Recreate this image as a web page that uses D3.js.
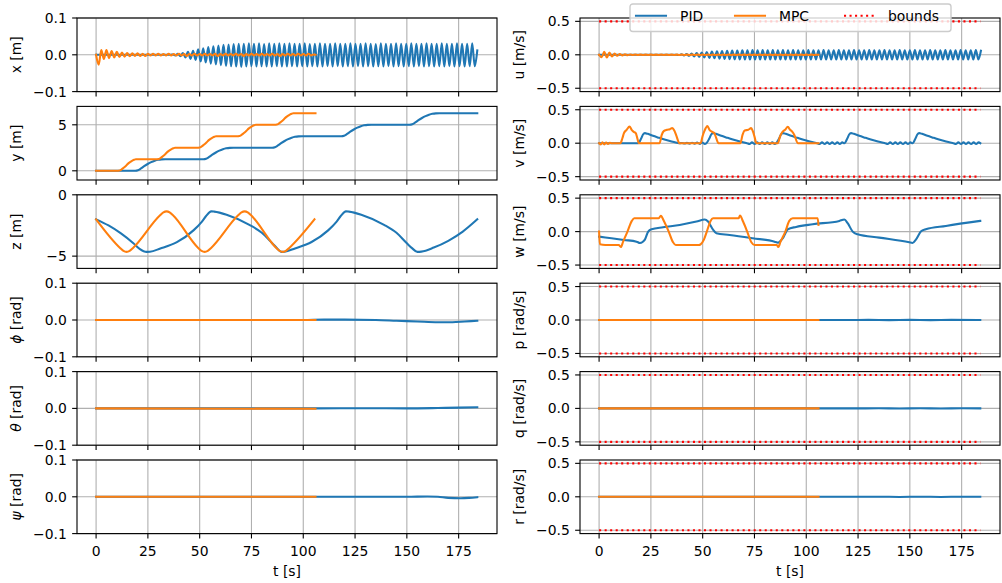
<!DOCTYPE html>
<html>
<head>
<meta charset="utf-8">
<script src="https://cdn.jsdelivr.net/npm/d3@7"></script>
<style>
  body { margin: 0; background: #fff; }
  svg text { font-family: "DejaVu Sans", sans-serif; fill: #000; }
</style>
</head>
<body>
<svg id="fig" width="1002" height="583"></svg>
<script>
// ---------------- data ----------------
const tTicks = [0, 25, 50, 75, 100, 125, 150, 175];
const seriesNames = ["PID", "MPC", "bounds"];

// surge position x [m]: PID oscillation extrema sampled every half period
const xPidStart = 37.0, xPidStep = 1.225;
const xPidVals = [
  0.001,-0.002,0.003,-0.004,0.005,-0.007,0.008,-0.011,0.011,-0.014,
  0.015,-0.018,0.018,-0.021,0.021,-0.024,0.023,-0.026,0.025,-0.028,
  0.027,-0.030,0.028,-0.031,0.029,-0.032,0.030,-0.033,
  0.030,-0.032,0.031,-0.031,0.030,-0.032,0.031,-0.031,0.029,-0.032,
  0.031,-0.032,0.030,-0.031,0.031,-0.032,0.030,-0.032,0.031,-0.031,
  0.030,-0.032,0.030,-0.031,0.031,-0.032,0.029,-0.031,0.030,-0.032,
  0.031,-0.032,0.030,-0.031,0.030,-0.032,0.031,-0.031,0.030,-0.032,
  0.030,-0.031,0.031,-0.032,0.030,-0.031,0.030,-0.032,0.031,-0.031,
  0.030,-0.032,0.029,-0.031,0.031,-0.032,0.030,-0.031,0.030,-0.032,
  0.031,-0.031,0.030,-0.032,0.030,-0.031,0.031,-0.032,0.030,-0.031,
  0.030,-0.032,0.031,-0.031,0.030,-0.032,0.030,-0.031,0.031,-0.032,
  0.030,-0.031,0.030,-0.032,0.031,-0.031,0.030,-0.032,0.030,-0.031,
  0.031,-0.031,0.012
];
const xMpcStep = 1.25;
const xMpcVals = [
  0,-0.027,0.013,-0.011,0.013,-0.009,0.010,-0.007,0.008,-0.006,
  0.006,-0.005,0.005,-0.004,0.004,-0.003,0.004,-0.003,0.003,-0.003,
  0.003,-0.002,0.003,-0.002,0.003,-0.002,0.002,-0.002,0.003,-0.002,
  0.002,-0.002,0.003,-0.002,0.002,-0.003,0.002,-0.002,0.003,-0.002,
  0.002,-0.002,0.003,-0.002,0.002,-0.002,0.003,-0.003,0.002,-0.002,
  0.003,-0.002,0.002,-0.002,0.003,-0.002,0.002,-0.003,0.002,-0.002,
  0.003,-0.002,0.002,-0.002,0.003,-0.002,0.002,-0.002,0.003,-0.002,
  0.002,-0.003,0.002,-0.002,0.003,-0.002,0.002,-0.002,0.003,-0.002,
  0.002,-0.002,0.003,-0.002,0.001
];

// sway position y [m]
const yPid = [
  [0,0],[18.9,0],[20.2,0.06],[21.5,0.23],[23.2,0.5],[24.9,0.74],[26.6,0.94],[28.3,1.09],[29.9,1.19],[31.6,1.24],[33.4,1.25],
  [51.8,1.25],[53.1,1.31],[54.4,1.48],[56.1,1.75],[57.8,1.99],[59.5,2.19],[61.2,2.34],[62.8,2.44],[64.5,2.49],[66.3,2.5],
  [85.0,2.5],[86.3,2.56],[87.6,2.73],[89.3,3.0],[91.0,3.24],[92.7,3.44],[94.4,3.59],[96.0,3.69],[97.7,3.74],[99.5,3.75],
  [118.4,3.75],[119.7,3.81],[121.0,3.98],[122.7,4.25],[124.4,4.49],[126.1,4.69],[127.8,4.84],[129.4,4.94],[131.1,4.99],[132.9,5.0],
  [151.3,5.0],[152.6,5.06],[153.9,5.23],[155.6,5.5],[157.3,5.74],[159.0,5.94],[160.7,6.09],[162.3,6.19],[164.0,6.24],[165.8,6.25],
  [184.0,6.25]
];
const yMpc = [
  [0,0],[10.3,0],[11.2,0.03],[12.0,0.11],[13.3,0.33],[14.7,0.61],[15.7,0.83],[16.7,0.99],[17.7,1.13],[18.4,1.2],[19.2,1.25],
  [29.2,1.25],[30.1,1.28],[30.9,1.36],[32.2,1.58],[33.6,1.86],[34.6,2.08],[35.6,2.24],[36.6,2.38],[37.3,2.45],[38.1,2.5],
  [49.0,2.5],[49.9,2.53],[50.7,2.61],[52.0,2.83],[53.4,3.11],[54.4,3.33],[55.4,3.49],[56.4,3.63],[57.1,3.7],[57.9,3.75],
  [68.2,3.75],[69.1,3.78],[69.9,3.86],[71.2,4.08],[72.6,4.36],[73.6,4.58],[74.6,4.74],[75.6,4.88],[76.3,4.95],[77.1,5.0],
  [86.3,5.0],[87.2,5.03],[88.0,5.11],[89.3,5.33],[90.7,5.61],[91.7,5.83],[92.7,5.99],[93.7,6.13],[94.4,6.2],[95.2,6.25],
  [105.9,6.25]
];

// heave position z [m]
const zPid = [
  [0,-2.0],[6,-2.5],[12,-3.15],[18,-3.95],[21,-4.4],[24.4,-4.65],[26,-4.64],[31,-4.38],[39,-3.86],[47,-2.9],[51,-2.2],[53,-1.75],[55.6,-1.35],
  [57,-1.37],[63,-1.62],[74,-2.45],[80,-3.1],[85,-3.95],[87,-4.3],[89.4,-4.65],[91,-4.64],[96,-4.37],[104,-3.85],[112,-2.9],[116,-2.2],[118,-1.75],[120.6,-1.35],
  [122,-1.37],[128,-1.62],[139,-2.45],[145,-3.1],[150,-3.95],[152.5,-4.35],[155.1,-4.65],[157,-4.63],[163,-4.3],[170,-3.75],[177,-3.0],[184,-2.0]
];
const zMpc = [
  [0,-2.0],[11.7,-4.35],[13.2,-4.57],[14.7,-4.65],[16.2,-4.57],[17.7,-4.35],
  [31.0,-1.65],[32.5,-1.43],[34.0,-1.35],[35.5,-1.43],[37.0,-1.65],
  [49.4,-4.35],[50.9,-4.57],[52.4,-4.65],[53.9,-4.57],[55.4,-4.35],
  [68.7,-1.65],[70.2,-1.43],[71.7,-1.35],[73.2,-1.43],[74.7,-1.65],
  [87.1,-4.35],[88.6,-4.57],[90.1,-4.65],[91.6,-4.57],[93.1,-4.35],
  [105.4,-2.0]
];

// attitude angles [rad]
const phiPid = [[0,0],[100,0],[110,0.001],[120,0.001],[135,0],[145,-0.002],[155,-0.004],[165,-0.006],[172,-0.006],[178,-0.004],[184,-0.002]];
const phiMpc = [[0,0],[105.9,0]];
const thetaPid = [[0,0],[106,0],[130,0.0005],[150,0],[165,0.001],[175,0.002],[184,0.003]];
const thetaMpc = [[0,0],[105.9,-0.001]];
const psiPid = [[0,0],[150,0],[160,0.001],[165,0],[170,-0.003],[176,-0.004],[180,-0.003],[184,-0.001]];
const psiMpc = [[0,0],[105.9,0]];

// surge velocity u [m/s]
const uPidStart = 37.3, uPidStep = 1.225;
const uPidVals = [
  0.002,-0.004,0.006,-0.009,0.011,-0.015,0.018,-0.024,0.025,-0.031,
  0.034,-0.039,0.041,-0.046,0.047,-0.052,0.052,-0.057,0.056,-0.061,
  0.060,-0.065,0.062,-0.068,0.065,-0.070,0.067,-0.071,
  0.069,-0.071,0.070,-0.070,0.069,-0.071,0.070,-0.070,0.068,-0.071,
  0.070,-0.071,0.069,-0.070,0.070,-0.071,0.069,-0.071,0.070,-0.070,
  0.069,-0.071,0.069,-0.070,0.070,-0.071,0.068,-0.070,0.069,-0.071,
  0.070,-0.071,0.069,-0.070,0.069,-0.071,0.070,-0.070,0.069,-0.071,
  0.069,-0.070,0.070,-0.071,0.069,-0.070,0.069,-0.071,0.070,-0.070,
  0.069,-0.071,0.068,-0.070,0.070,-0.071,0.069,-0.070,0.069,-0.071,
  0.070,-0.070,0.069,-0.071,0.069,-0.070,0.070,-0.071,0.069,-0.070,
  0.069,-0.071,0.070,-0.070,0.069,-0.071,0.069,-0.070,0.070,-0.071,
  0.069,-0.070,0.069,-0.071,0.070,-0.070,0.069,-0.071,0.069,-0.070,
  0.070,-0.070,0.060
];
const uMpcStep = 1.25;
const uMpcVals = [
  0,-0.035,0.045,-0.040,0.032,-0.026,0.020,-0.015,0.012,-0.009,
  0.007,-0.006,0.005,-0.004,0.004,-0.004,0.003,-0.003,0.003,-0.003,
  0.003,-0.003,0.003,-0.003,0.003,-0.003,0.003,-0.003,0.003,-0.003,
  0.003,-0.003,0.003,-0.003,0.003,-0.003,0.003,-0.003,0.003,-0.003,
  0.003,-0.003,0.003,-0.003,0.003,-0.003,0.003,-0.003,0.003,-0.003,
  0.003,-0.003,0.003,-0.003,0.003,-0.003,0.003,-0.003,0.003,-0.003,
  0.003,-0.003,0.003,-0.003,0.003,-0.003,0.003,-0.003,0.003,-0.003,
  0.003,-0.003,0.003,-0.003,0.003,-0.003,0.003,-0.003,0.003,-0.003,
  0.003,-0.003,0.003,-0.003,0.002
];

// sway velocity v [m/s]
const vPid = [
  [0,0],[18.9,0],[20.3,0.07],[21.2,0.13],[22.1,0.15],[23.5,0.14],[26,0.11],[29,0.08],[32,0.05],[35,0.025],[37,0.01],[38.5,0],
  [40,0.003],[41.2,-0.004],[42.4,0.005],[43.7,-0.006],[44.9,0.007],[46.1,-0.008],[47.3,0.009],[48.6,-0.01],[49.8,0.01],[51,-0.01],[51.8,0],
  [53.2,0.07],[54.1,0.13],[55,0.15],[56.4,0.14],[59,0.11],[62,0.08],[65,0.05],[68,0.025],[70,0.01],[71.4,0],
  [72.6,-0.012],[73.8,0.012],[75.1,-0.012],[76.3,0.012],[77.5,-0.012],[78.7,0.012],[80,-0.012],[81.2,0.012],[82.4,-0.012],[83.6,0.012],[84.8,-0.012],[85.5,0],
  [86.9,0.07],[87.8,0.13],[88.7,0.15],[90.1,0.14],[92.7,0.11],[95.7,0.08],[98.7,0.05],[101.7,0.025],[103.7,0.01],[105.2,0],
  [106.4,-0.012],[107.6,0.012],[108.9,-0.012],[110.1,0.012],[111.3,-0.012],[112.5,0.012],[113.8,-0.012],[115,0.012],[116.2,-0.012],[117.4,0.012],[118.4,0],
  [119.8,0.07],[120.7,0.13],[121.6,0.15],[123,0.14],[125.6,0.11],[128.6,0.08],[131.6,0.05],[134.6,0.025],[136.6,0.01],[138.1,0],
  [139.3,-0.012],[140.5,0.012],[141.8,-0.012],[143,0.012],[144.2,-0.012],[145.4,0.012],[146.7,-0.012],[147.9,0.012],[149.1,-0.012],[150.3,0.012],[151.3,0],
  [152.7,0.07],[153.6,0.13],[154.5,0.15],[155.9,0.14],[158.5,0.11],[161.5,0.08],[164.5,0.05],[167.5,0.025],[169.5,0.01],[171,0],
  [172.2,-0.012],[173.4,0.012],[174.7,-0.012],[175.9,0.012],[177.1,-0.012],[178.3,0.012],[179.6,-0.012],[180.8,0.012],[182,-0.012],[183.2,0.012],[184,0]
];
const vMpc = [
  [0,0],[0.8,-0.02],[1.6,0.015],[2.5,-0.02],[3.4,0.01],[4.3,-0.01],[5.2,0.005],[6,0],
  [10.3,0],[11.2,0.07],[12,0.15],[13.3,0.2],[14.7,0.25],[15.7,0.2],[16.7,0.17],[17.7,0.15],[18.4,0.08],[19.2,0],
  [29.2,0],[30.2,0.12],[31.2,0.18],[32.8,0.2],[34.2,0.21],[35.3,0.225],[36.3,0.19],[37.2,0.12],[38.8,0],
  [49,0],[49.9,0.1],[50.8,0.18],[52.3,0.255],[53.3,0.2],[54.6,0.17],[55.6,0.15],[56.5,0.08],[57.6,0],
  [68.2,0],[69.2,0.12],[70.3,0.19],[72,0.2],[73.4,0.225],[74.2,0.18],[75,0.1],[75.9,0],
  [86.3,0],[87.3,0.1],[88.3,0.16],[89.8,0.2],[91.1,0.245],[92.2,0.2],[93.3,0.17],[94.3,0.12],[95.9,0],
  [105.9,0]
];

// heave velocity w [m/s]
const wPid = [
  [0,-0.075],[6,-0.1],[12,-0.125],[18.1,-0.15],[19.7,-0.17],[21,-0.155],[22.1,-0.12],[23.7,0],[25.3,0.035],[30.9,0.065],[38.9,0.1],[47,0.15],[51,0.18],
  [52.6,0.15],[55,0.03],[56.6,-0.025],[63,-0.05],[74.2,-0.1],[84.7,-0.15],[86.3,-0.165],[87.5,-0.14],[88.7,-0.1],[90,-0.02],[91.1,0.035],[95.1,0.07],[103.1,0.11],[116,0.16],[118.4,0.18],
  [120,0.125],[122.4,0],[124.8,-0.04],[135.2,-0.09],[149.7,-0.16],[151.3,-0.17],[152.9,-0.12],[155.3,0],[157.7,0.035],[167.4,0.085],[184,0.16]
];
const wMpc = [
  [0,0],[0.4,-0.19],[3,-0.2],[6,-0.2],[9.5,-0.2],[10.5,-0.23],[11.6,-0.15],[13.7,0],[15.8,0.16],[17,0.2],[20,0.2],[25,0.2],[28.8,0.2],
  [29.8,0.235],[31.4,0.15],[33.6,0],[35.7,-0.16],[37,-0.2],[40,-0.2],[44,-0.2],[48.1,-0.2],[49,-0.19],[50.6,-0.12],[52,0],[53.8,0.16],[55,0.2],
  [60,0.2],[65,0.2],[67.4,0.2],[68,0.24],[69.5,0.15],[71.5,0],[73.5,-0.16],[75,-0.2],[80,-0.2],[85.8,-0.2],[86.5,-0.23],[87.6,-0.15],[89.9,0],
  [91.8,0.16],[93.5,0.2],[97,0.2],[100,0.2],[105.5,0.2],[105.9,0.1]
];

// angular rates p, q, r [rad/s]
const pPid = [[0,0],[120,0],[130,0.002],[140,-0.002],[150,0.002],[160,-0.002],[170,0.002],[184,0]];
const pMpc = [[0,0],[105.9,0]];
const qPid = [[0,0],[125,0],[135,0.002],[145,-0.002],[155,0.002],[165,-0.002],[175,0.002],[184,0]];
const qMpc = [[0,0],[105.9,0]];
const rPid = [[0,0],[125,0],[135,0.002],[145,-0.002],[155,0.002],[165,-0.002],[175,0.002],[184,0]];
const rMpc = [[0,0],[105.9,0]];

// velocity limits
const boundT = [0, 184];
const boundLevels = [-0.5, 0.5];

// ---------------- helpers ----------------
const sampled = (t0, dt, vals, lead) => (lead || []).concat(vals.map((v, i) => [t0 + i * dt, v]));

const xPid = sampled(xPidStart, xPidStep, xPidVals, [[0, 0], [36, 0]]);
const xMpc = sampled(0, xMpcStep, xMpcVals).concat([[105.9, 0]]);
const uPid = sampled(uPidStart, uPidStep, uPidVals, [[0, 0], [36.2, 0]]);
const uMpc = sampled(0, uMpcStep, uMpcVals).concat([[105.9, 0]]);

// ---------------- layout ----------------
const svg = d3.select("#fig");
const FS = 13.9;
const LW = 2.08, AXW = 1.11, TICK = 4.86;
const C_PID = "#1f77b4", C_MPC = "#ff7f0e", C_BND = "#ff0000";
const colX = [77, 580], colW = 420;
const rowTop = [18, 106.4, 194.8, 283.2, 371.6, 460], rowH = 73.6;

const allT = [xPid, xMpc, uPid, uMpc, yPid, zPid, vPid, wPid].flat().map(d => d[0]);
const tExt = d3.extent(allT);
const tPad = 0.05 * (tExt[1] - tExt[0]);

const f1 = d3.format(".1f"), f0 = d3.format("d");

const leftPanels = [
  { label: [["x", false], [" [m]", false]], dom: [-0.1, 0.1], ticks: [-0.1, 0, 0.1], fmt: f1, pid: xPid, mpc: xMpc },
  { label: [["y", false], [" [m]", false]], dom: [-1, 7], ticks: [0, 5], fmt: f0, pid: yPid, mpc: yMpc },
  { label: [["z", false], [" [m]", false]], dom: [-6, 0], ticks: [-5, 0], fmt: f0, pid: zPid, mpc: zMpc },
  { label: [["\u03D5", true], [" [rad]", false]], dom: [-0.1, 0.1], ticks: [-0.1, 0, 0.1], fmt: f1, pid: phiPid, mpc: phiMpc },
  { label: [["\u03B8", true], [" [rad]", false]], dom: [-0.1, 0.1], ticks: [-0.1, 0, 0.1], fmt: f1, pid: thetaPid, mpc: thetaMpc },
  { label: [["\u03C8", true], [" [rad]", false]], dom: [-0.1, 0.1], ticks: [-0.1, 0, 0.1], fmt: f1, pid: psiPid, mpc: psiMpc }
];
const rightPanels = [
  { label: [["u [m/s]", false]], pid: uPid, mpc: uMpc },
  { label: [["v [m/s]", false]], pid: vPid, mpc: vMpc },
  { label: [["w [m/s]", false]], pid: wPid, mpc: wMpc },
  { label: [["p [rad/s]", false]], pid: pPid, mpc: pMpc },
  { label: [["q [rad/s]", false]], pid: qPid, mpc: qMpc },
  { label: [["r [rad/s]", false]], pid: rPid, mpc: rMpc }
].map(p => Object.assign(p, { dom: [-0.55, 0.55], ticks: [-0.5, 0, 0.5], fmt: f1, bounds: true }));

let clipId = 0;
function drawPanel(p, col, row) {
  const x0 = colX[col], y0 = rowTop[row];
  const xs = d3.scaleLinear().domain([tExt[0] - tPad, tExt[1] + tPad]).range([x0, x0 + colW]);
  const ys = d3.scaleLinear().domain(p.dom).range([y0 + rowH, y0]);
  const g = svg.append("g");
  const cid = "clip" + (clipId++);
  g.append("clipPath").attr("id", cid).append("rect")
    .attr("x", x0).attr("y", y0).attr("width", colW).attr("height", rowH);

  // grid
  const grid = g.append("g").attr("stroke", "#b0b0b0").attr("stroke-width", AXW);
  tTicks.forEach(t => grid.append("line").attr("x1", xs(t)).attr("x2", xs(t)).attr("y1", y0).attr("y2", y0 + rowH));
  p.ticks.forEach(v => grid.append("line").attr("x1", x0).attr("x2", x0 + colW).attr("y1", ys(v)).attr("y2", ys(v)));

  const line = d3.line().x(d => xs(d[0])).y(d => ys(d[1])).curve(d3.curveMonotoneX);
  const lines = g.append("g").attr("clip-path", `url(#${cid})`).attr("fill", "none")
    .attr("stroke-linejoin", "round").attr("stroke-linecap", "square");
  lines.append("path").attr("d", line(p.pid)).attr("stroke", C_PID).attr("stroke-width", LW);
  lines.append("path").attr("d", line(p.mpc)).attr("stroke", C_MPC).attr("stroke-width", LW);
  if (p.bounds) {
    boundLevels.forEach(b => {
      lines.append("path").attr("d", d3.line().x(d => xs(d)).y(() => ys(b))(boundT))
        .attr("stroke", C_BND).attr("stroke-width", LW).attr("stroke-linecap", "butt")
        .attr("stroke-dasharray", "2.08,3.44");
    });
  }

  // spines
  g.append("rect").attr("x", x0).attr("y", y0).attr("width", colW).attr("height", rowH)
    .attr("fill", "none").attr("stroke", "#000").attr("stroke-width", AXW);

  // ticks
  const tk = g.append("g").attr("stroke", "#000").attr("stroke-width", AXW);
  tTicks.forEach(t => tk.append("line").attr("x1", xs(t)).attr("x2", xs(t)).attr("y1", y0 + rowH).attr("y2", y0 + rowH + TICK));
  p.ticks.forEach(v => tk.append("line").attr("x1", x0).attr("x2", x0 - TICK).attr("y1", ys(v)).attr("y2", ys(v)));

  // y tick labels
  p.ticks.forEach(v => g.append("text").attr("x", x0 - TICK - 5.3).attr("y", ys(v) + 5)
    .attr("text-anchor", "end").attr("font-size", FS).text(p.fmt(v)));

  // y label
  const ly = y0 + rowH / 2, lx = col === 0 ? 20.5 : 523.5;
  const lab = g.append("text").attr("transform", `translate(${lx},${ly}) rotate(-90)`)
    .attr("text-anchor", "middle").attr("font-size", FS);
  p.label.forEach(([s, it]) => lab.append("tspan").attr("font-style", it ? "italic" : null).text(s));

  // bottom row: x tick labels + axis title
  if (row === 5) {
    tTicks.forEach(t => g.append("text").attr("x", xs(t)).attr("y", 555.5)
      .attr("text-anchor", "middle").attr("font-size", FS).text(f0(t)));
    g.append("text").attr("x", x0 + colW / 2).attr("y", 576).attr("text-anchor", "middle")
      .attr("font-size", FS).text("t [s]");
  }
}

leftPanels.forEach((p, i) => drawPanel(p, 0, i));
rightPanels.forEach((p, i) => drawPanel(p, 1, i));

// ---------------- legend ----------------
const lg = svg.append("g");
lg.append("rect").attr("x", 630).attr("y", 4).attr("width", 321).attr("height", 27.5)
  .attr("rx", 2.8).attr("fill", "#fff").attr("fill-opacity", 0.8)
  .attr("stroke", "#cccccc").attr("stroke-width", 1.39);
const legItems = [
  { name: seriesNames[0], color: C_PID, dash: null, x: 636 },
  { name: seriesNames[1], color: C_MPC, dash: null, x: 735 },
  { name: seriesNames[2], color: C_BND, dash: "2.08,3.44", x: 844 }
];
legItems.forEach(it => {
  lg.append("line").attr("x1", it.x).attr("x2", it.x + 30).attr("y1", 15.7).attr("y2", 15.7)
    .attr("stroke", it.color).attr("stroke-width", LW)
    .attr("stroke-dasharray", it.dash).attr("stroke-linecap", it.dash ? "butt" : "square");
  lg.append("text").attr("x", it.x + 44).attr("y", 21.3).attr("font-size", FS).text(it.name);
});
</script>
</body>
</html>
